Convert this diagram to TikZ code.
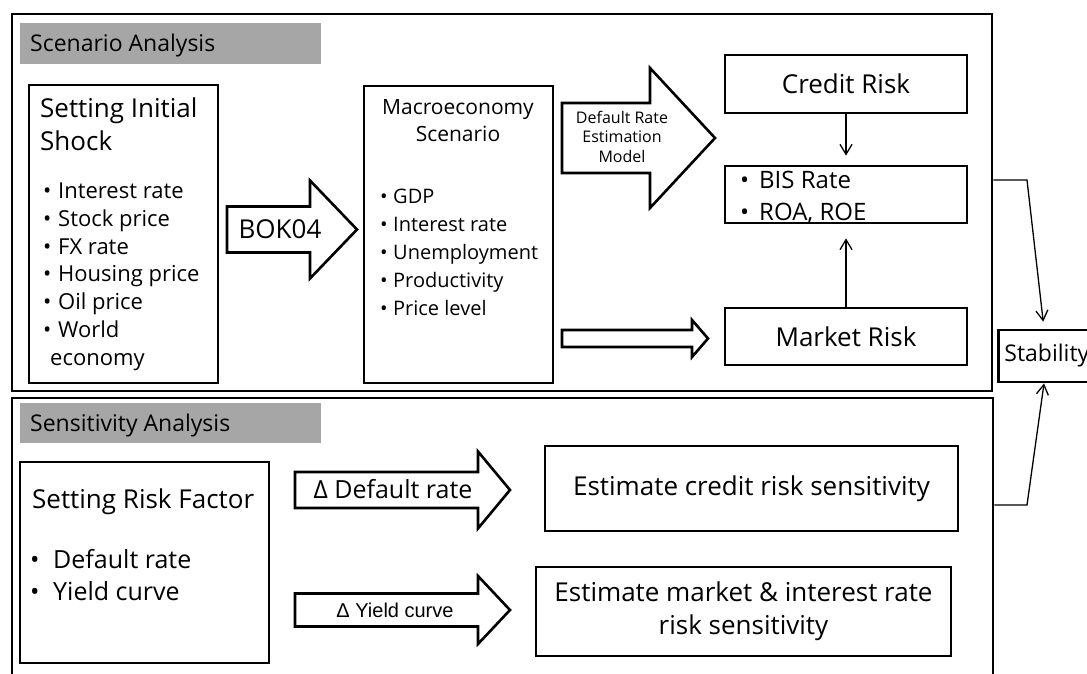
\documentclass[tikz,border=0pt]{standalone}
\usepackage{fontspec}
\setmainfont{Open Sans}
\newfontfamily\arialfont{Liberation Sans}
\usepackage{tikz}
\usetikzlibrary{positioning}
\usetikzlibrary{arrows.meta}

\definecolor{bargray}{RGB}{166,166,166}
\newcommand{\fs}[2]{\fontsize{#1}{#2}\selectfont}
\newcommand{\itm}[1][14pt]{\makebox[#1][l]{\textbullet}}
% block arrow: tail x, neck x, tip x, centre y, half shaft, half head
\newcommand{\bigarrow}[6]{(#1,#4-#5) -- (#2,#4-#5) -- (#2,#4-#6) -- (#3,#4) -- (#2,#4+#6) -- (#2,#4+#5) -- (#1,#4+#5) -- cycle}

\tikzset{
  frame/.style={draw, line width=2.8pt, inner sep=0pt},
  box/.style={draw, line width=2.8pt, inner sep=0pt},
  bar/.style={fill=bargray, inner sep=0pt, minimum width=301pt, minimum height=41pt},
  fat/.style={draw, line width=2.6pt, fill=white, line join=miter},
  link/.style={line width=1.3pt, -{Straight Barb[length=10pt,width=12pt,line width=1.3pt]}}
}

\begin{document}
\begin{tikzpicture}[x=1pt,y=-1pt]
\useasboundingbox (0,0) rectangle (1087,674);
\clip (0,0) rectangle (1087,674);

% scenario analysis (multi-line texts sit on their last baseline)
\node[frame, minimum width=980pt, minimum height=377pt] (scen) at (502,202.5) {};
\node[bar, anchor=north west] (scenbar) at (20,23) {};
\node[anchor=base west, inner sep=0pt, font=\fs{23}{28}] (scenttl) at (30,52) {Scenario Analysis};

\node[box, minimum width=189pt, minimum height=298pt] (shock) at (123.5,234) {};
\node[anchor=base west, align=left, inner sep=0pt, font=\fs{26}{33}] (shockttl) at (40,150) {Setting Initial\\Shock};
\node[anchor=base west, align=left, inner sep=0pt, font=\fs{22}{27.7}] (shocklist) at (43,365)
{\itm[15pt]Interest rate\\ \itm[15pt]Stock price\\ \itm[15pt]FX rate\\ \itm[15pt]Housing price\\ \itm[15pt]Oil price\\ \itm[15pt]World\\ \hspace*{7pt}economy};

\draw[fat] \bigarrow{227}{310}{357}{229.5}{23}{49};
\node[anchor=base, inner sep=0pt, font=\fs{26}{30}] (bok) at (280,238) {BOK04};

\node[box, minimum width=189pt, minimum height=297pt] (macro) at (458.5,234.5) {};
\node[anchor=base, align=center, inner sep=0pt, font=\fs{21}{27}] (macrottl) at (458,142) {Macroeconomy\\Scenario};
\node[anchor=base west, align=left, inner sep=0pt, font=\fs{20}{28}] (macrolist) at (380,315)
{\itm[13pt]GDP\\ \itm[13pt]Interest rate\\ \itm[13pt]Unemployment\\ \itm[13pt]Productivity\\ \itm[13pt]Price level};

\draw[fat] \bigarrow{562}{650}{715}{138}{35}{70};
\node[anchor=base, align=center, inner sep=0pt, font=\fs{16}{19.5}] (drem) at (622,162) {Default Rate\\Estimation\\Model};
\draw[fat] \bigarrow{562}{692}{708}{338.5}{8.5}{18.5};

\node[box, minimum width=242pt, minimum height=58pt, font=\fs{26}{30}] (credit) at (846,84) {Credit Risk};
\node[box, minimum width=242pt, minimum height=57pt] (bis) at (846,194.5) {};
\node[anchor=base west, align=left, inner sep=0pt, font=\fs{24}{32}] (bislist) at (740,220)
{\itm[19pt]BIS Rate\\ \itm[19pt]ROA, ROE};
\node[box, minimum width=242pt, minimum height=57pt, font=\fs{26}{30}] (market) at (846,336.5) {Market Risk};

\draw[link, shorten >=9pt] (credit) -- (bis);
\draw[link, shorten >=14pt] (market) -- (bis);

\node[box, anchor=west, inner xsep=6pt, minimum height=52pt, font=\fs{23}{27}] (stab) at (997,356) {Stability};

% sensitivity analysis
\node[frame, minimum width=981pt, minimum height=287pt] (sens) at (502.5,541.5) {};
\node[bar, minimum height=40pt, anchor=north west] (sensbar) at (20,403) {};
\node[anchor=base west, inner sep=0pt, font=\fs{23}{28}] (sensttl) at (30,431) {Sensitivity Analysis};

\node[box, minimum width=249pt, minimum height=201pt] (factor) at (144.5,562.5) {};
\node[anchor=base west, inner sep=0pt, font=\fs{26}{30}] (factorttl) at (32,508) {Setting Risk Factor};
\node[anchor=base west, align=left, inner sep=0pt, font=\fs{25}{32}] (factorlist) at (30,600)
{\itm[23pt]Default rate\\ \itm[23pt]Yield curve};

\draw[fat] \bigarrow{295}{478}{510}{490}{18}{38.5};
\node[anchor=base, inner sep=0pt, font=\fs{25}{30}] (ddef) at (393,498) {Δ Default rate};
\draw[fat] \bigarrow{295}{478}{510}{610}{16.5}{34};
\node[anchor=base, inner sep=0pt, font=\arialfont\fs{20}{24}] (dyield) at (395,617) {Δ Yield curve};

\node[box, minimum width=413pt, minimum height=85pt, font=\fs{26}{30}] (credsens) at (751.5,488.5) {Estimate credit risk sensitivity};
\node[box, minimum width=415pt, minimum height=89pt, align=center, font=\fs{26}{33}] (marksens) at (743.5,611.5)
{Estimate market \& interest rate\\risk sensitivity};

% both parts feed into stability
\coordinate (kneeA) at (1027,180);
\coordinate (kneeB) at (1027,505);
\draw[link, shorten >=7pt] (kneeA -| scen.east) -- (kneeA) -- ([xshift=47pt]stab.north west);
\draw[link] (kneeB -| sens.east) -- (kneeB) -- ([xshift=47pt]stab.south west);
\end{tikzpicture}
\end{document}
